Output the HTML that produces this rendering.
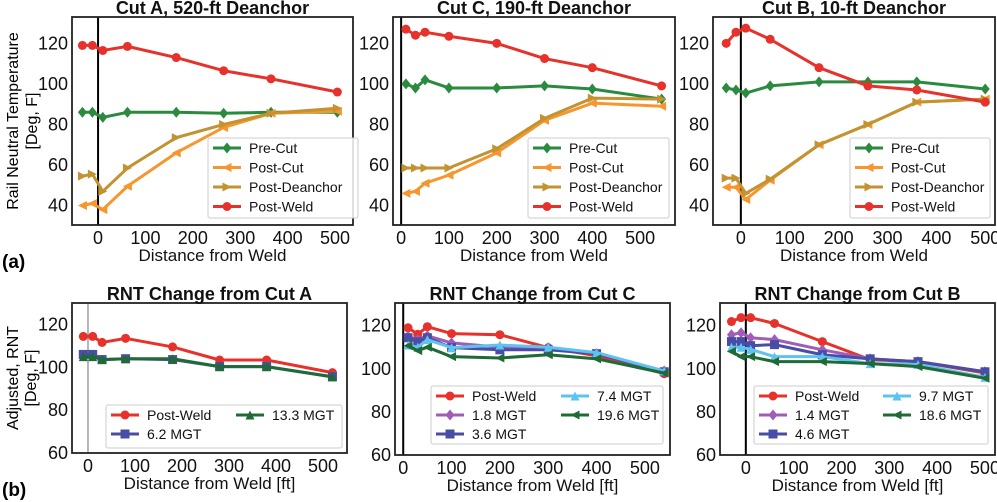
<!DOCTYPE html>
<html><head><meta charset="utf-8">
<style>
html,body{margin:0;padding:0;background:#fff;}
svg{display:block;font-family:"Liberation Sans",Arial,sans-serif;}
</style></head>
<body>
<svg id="fig" width="997" height="502" viewBox="0 0 997 502">
<text x="2" y="268" font-size="19" font-weight="bold">(a)</text>
<text x="2" y="496" font-size="19" font-weight="bold">(b)</text>
<text transform="translate(18,121) rotate(-90)" text-anchor="middle" font-size="16">Rail Neutral Temperature</text>
<text transform="translate(37,121) rotate(-90)" text-anchor="middle" font-size="16">[Deg, F]</text>
<text transform="translate(18,378) rotate(-90)" text-anchor="middle" font-size="16">Adjusted, RNT</text>
<text transform="translate(36,378) rotate(-90)" text-anchor="middle" font-size="16">[Deg, F]</text>
</svg>
<script>
// ---- data ----
const topTitles = ["Cut A, 520-ft Deanchor","Cut C, 190-ft Deanchor","Cut B, 10-ft Deanchor"];
const botTitles = ["RNT Change from Cut A","RNT Change from Cut C","RNT Change from Cut B"];
const topNames = ["Pre-Cut","Post-Cut","Post-Deanchor","Post-Weld"];
const xTicks = [0,100,200,300,400,500];
const yTicksTop = [40,60,80,100,120];
const yTicksBot = [60,80,100,120];

const aX = [-33,-12,10,62,165,265,365,505];
const aPre = [86,86,83.5,86,86,85.5,86,86];
const aCut = [40,41,38,49.5,66,78.5,85.5,86.5];
const aDea = [54.5,55.5,47,58.5,73.5,80,85.5,88];
const aWeld = [119,119,116.5,118.5,113,106.5,102.5,96];

const cX = [10,30,50,100,200,300,400,545];
const cPre = [100,98,102,98,98,99,97.5,92.5];
const cCut = [46,47,51,55,66,82,90.5,89];
const cDea = [58.5,58.5,58.5,58.5,68,83,93,92.5];
const cWeld = [127,124,125.5,123.5,120,112.5,108,99];

const bX = [-30,-10,10,60,160,260,360,500];
const bPre = [98,97,95.5,99,101,101,101,97.5];
const bCut = [49,49,43,52.5,70,80,91,92.5];
const bDea = [53.5,53.5,46,53,70,80,91,92.5];
const bWeld = [120,125.5,127.5,122,108,99,97,91];

const rAX = [-10,10,30,80,180,280,380,520];
const rAWeld = [114.4,114.4,111.6,113.5,109.5,103.4,103.4,97.5];
const rAm1 = [106,106,103.6,104,103.6,100.3,100.3,95.6];
const rAm2 = [105,105,103.6,104,104,100.3,100.3,95.5];
const rANames = ["Post-Weld","6.2 MGT","13.3 MGT"];

const rCX = [10,30,50,100,200,300,400,540];
const rCWeld = [119,116,119.5,116.3,115.8,109.8,106,97.7];
const rCm1 = [115,113.5,115.3,112,110,109.8,107,99];
const rCm2 = [114.4,112.5,114.4,109.8,108.8,108.8,107,98.6];
const rCm3 = [111,110,113.5,109.8,111,110,107.5,99];
const rCm4 = [110.7,108.4,110,105.6,105,106.5,104.6,98];
const rCNames = ["Post-Weld","1.8 MGT","3.6 MGT","7.4 MGT","19.6 MGT"];

const rBX = [-30,-10,10,60,160,260,360,500];
const rBWeld = [121.9,123.7,123.7,121,112.6,104.2,103.3,98];
const rBm1 = [115.8,116.7,114.4,113.5,108.8,104.6,103.3,98.6];
const rBm2 = [112.6,112.6,110.7,111.2,106.5,104.6,103.3,98.6];
const rBm3 = [110,110,109,105.6,105.6,102.4,102,96];
const rBm4 = [108,105.6,105.6,103.3,103.3,102.4,101,95.6];
const rBNames = ["Post-Weld","1.4 MGT","4.6 MGT","9.7 MGT","18.6 MGT"];

// ---- rendering ----
const NS="http://www.w3.org/2000/svg";
const svg=document.getElementById('fig');
function el(tag,attrs,parent){const e=document.createElementNS(NS,tag);for(const k in attrs)e.setAttribute(k,attrs[k]);(parent||svg).appendChild(e);return e;}

const C={pre:"#2a8a3e",cut:"#f7962e",dea:"#c39231",weld:"#e6322b",pur:"#a15cb8",blu:"#4a4da6",cya:"#5ec3ee",dgr:"#1f6a35"};

function marker(g,type,x,y,color,s){
  s=s||4.5;let p;
  if(type==='o')p=el('circle',{cx:x,cy:y,r:s,fill:color},g);
  else if(type==='D')p=el('polygon',{points:`${x},${y-s-1} ${x+s},${y} ${x},${y+s+1} ${x-s},${y}`,fill:color},g);
  else if(type==='s')p=el('rect',{x:x-s,y:y-s,width:2*s,height:2*s,fill:color},g);
  else if(type==='<')p=el('polygon',{points:`${x-s},${y} ${x+s},${y-s} ${x+s},${y+s}`,fill:color},g);
  else if(type==='>')p=el('polygon',{points:`${x+s},${y} ${x-s},${y-s} ${x-s},${y+s}`,fill:color},g);
  else p=el('polygon',{points:`${x},${y-s} ${x+s},${y+s} ${x-s},${y+s}`,fill:color},g);
  
  
}

function panel(cfg){
  const g=el('g',{});
  
  
  const sx=v=>cfg.L+(v-cfg.x0)/(cfg.x1-cfg.x0)*(cfg.R-cfg.L);
  const sy=v=>cfg.B-(v-cfg.y0)/(cfg.y1-cfg.y0)*(cfg.B-cfg.T);
  const zl=el('line',{x1:sx(0),x2:sx(0),y1:cfg.T,y2:cfg.B,stroke:cfg.zcol||'#000','stroke-width':cfg.zw||2},g);
  
  
  cfg.series.forEach(s=>{
    const sg=el('g',{},g);
    
    
    const pts=cfg.xs.map((x,i)=>sx(x)+','+sy(s.v[i])).join(' ');
    el('polyline',{points:pts,fill:'none',stroke:s.c,'stroke-width':3,'stroke-linejoin':'round'},sg);
    cfg.xs.forEach((x,i)=>marker(sg,s.m,sx(x),sy(s.v[i]),s.c));
  });
  const fr=el('rect',{x:cfg.L,y:cfg.T,width:cfg.R-cfg.L,height:cfg.B-cfg.T,fill:'none',stroke:'#222','stroke-width':1.8},g);
  
  
  xTicks.forEach(t=>{
    const tx=el('text',{x:sx(t),y:cfg.B+19,'text-anchor':'middle','font-size':18,fill:'#111'},g);
    tx.textContent=t;
    
    
  });
  cfg.yt.forEach(t=>{
    const ty=el('text',{x:cfg.L-4,y:sy(t)+6,'text-anchor':'end','font-size':18,fill:'#111'},g);
    ty.textContent=t;
    
    
  });
  const tt=el('text',{x:(cfg.L+cfg.R)/2,y:cfg.T-3,'text-anchor':'middle','font-size':18,'font-weight':'bold',fill:'#111'},g);
  tt.textContent=cfg.title;
  
  
  const xl=el('text',{x:(cfg.L+cfg.R)/2,y:cfg.B+36,'text-anchor':'middle','font-size':17,fill:'#111'},g);
  xl.textContent=cfg.xlabel;
  
  
  const lg=el('g',{},g);
  
  
  const lb=cfg.leg;
  el('rect',{x:lb.x,y:lb.y,width:lb.w,height:lb.h,fill:'#fff','fill-opacity':0.85,stroke:'#ccc','stroke-width':1,rx:2},lg);
  cfg.series.forEach((s,i)=>{
    const col=Math.floor(i/lb.rows), row=i%lb.rows;
    const x=lb.x+5+col*lb.cw, y=lb.y+10+row*lb.rh;
    const eg=el('g',{},lg);
    
    
    el('line',{x1:x,x2:x+28,y1:y,y2:y,stroke:s.c,'stroke-width':3},eg);
    marker(eg,s.m,x+14,y,s.c);
    const t=el('text',{x:x+36,y:y+5,'font-size':14,fill:'#111'},eg);
    t.textContent=s.label;
  });
}

const topSeries=(p,c,d,w)=>[
  {label:topNames[0],v:p,c:C.pre,m:'D'},
  {label:topNames[1],v:c,c:C.cut,m:'<'},
  {label:topNames[2],v:d,c:C.dea,m:'>'},
  {label:topNames[3],v:w,c:C.weld,m:'o'}];

panel({name:'panel-cut-a',title:topTitles[0],xlabel:'Distance from Weld',L:72,R:353,T:17,B:225,x0:-55,x1:538,y0:30.4,y1:133,yt:yTicksTop,xs:aX,
  series:topSeries(aPre,aCut,aDea,aWeld),leg:{x:208,y:138,w:150,h:80,rows:4,cw:0,rh:19.5}});
panel({name:'panel-cut-c',title:topTitles[1],xlabel:'Distance from Weld',L:393,R:675,T:17,B:225,x0:-17,x1:573,y0:30.4,y1:133,yt:yTicksTop,xs:cX,
  series:topSeries(cPre,cCut,cDea,cWeld),leg:{x:528,y:138,w:141,h:80,rows:4,cw:0,rh:19.5}});
panel({name:'panel-cut-b',title:topTitles[2],xlabel:'Distance from Weld',L:713,R:995,T:17,B:225,x0:-57,x1:520,y0:30.4,y1:133,yt:yTicksTop,xs:bX,
  series:topSeries(bPre,bCut,bDea,bWeld),leg:{x:850,y:138,w:140,h:80,rows:4,cw:0,rh:19.5}});

panel({name:'panel-rnt-a',title:botTitles[0],xlabel:'Distance from Weld [ft]',L:72,R:347,T:303,B:453,x0:-34,x1:551,y0:60,y1:130,yt:yTicksBot,xs:rAX,zcol:'#888',zw:1.2,
  series:[{label:rANames[0],v:rAWeld,c:C.weld,m:'o'},{label:rANames[1],v:rAm1,c:C.blu,m:'s'},{label:rANames[2],v:rAm2,c:C.dgr,m:'^'}],
  leg:{x:106,y:405,w:236,h:43,rows:2,cw:125,rh:19}});
panel({name:'panel-rnt-c',title:botTitles[1],xlabel:'Distance from Weld [ft]',L:395,R:670,T:303,B:455,x0:-17,x1:552,y0:60,y1:130.5,yt:yTicksBot,xs:rCX,
  series:[{label:rCNames[0],v:rCWeld,c:C.weld,m:'o'},{label:rCNames[1],v:rCm1,c:C.pur,m:'D'},{label:rCNames[2],v:rCm2,c:C.blu,m:'s'},{label:rCNames[3],v:rCm3,c:C.cya,m:'^'},{label:rCNames[4],v:rCm4,c:C.dgr,m:'<'}],
  leg:{x:431,y:386,w:232,h:58,rows:3,cw:125,rh:19}});
panel({name:'panel-rnt-b',title:botTitles[2],xlabel:'Distance from Weld [ft]',L:720,R:995,T:303,B:455,x0:-54,x1:521,y0:60,y1:130.5,yt:yTicksBot,xs:rBX,
  series:[{label:rBNames[0],v:rBWeld,c:C.weld,m:'o'},{label:rBNames[1],v:rBm1,c:C.pur,m:'D'},{label:rBNames[2],v:rBm2,c:C.blu,m:'s'},{label:rBNames[3],v:rBm3,c:C.cya,m:'^'},{label:rBNames[4],v:rBm4,c:C.dgr,m:'<'}],
  leg:{x:754,y:386,w:234,h:58,rows:3,cw:124,rh:19}});
</script>
</body></html>
